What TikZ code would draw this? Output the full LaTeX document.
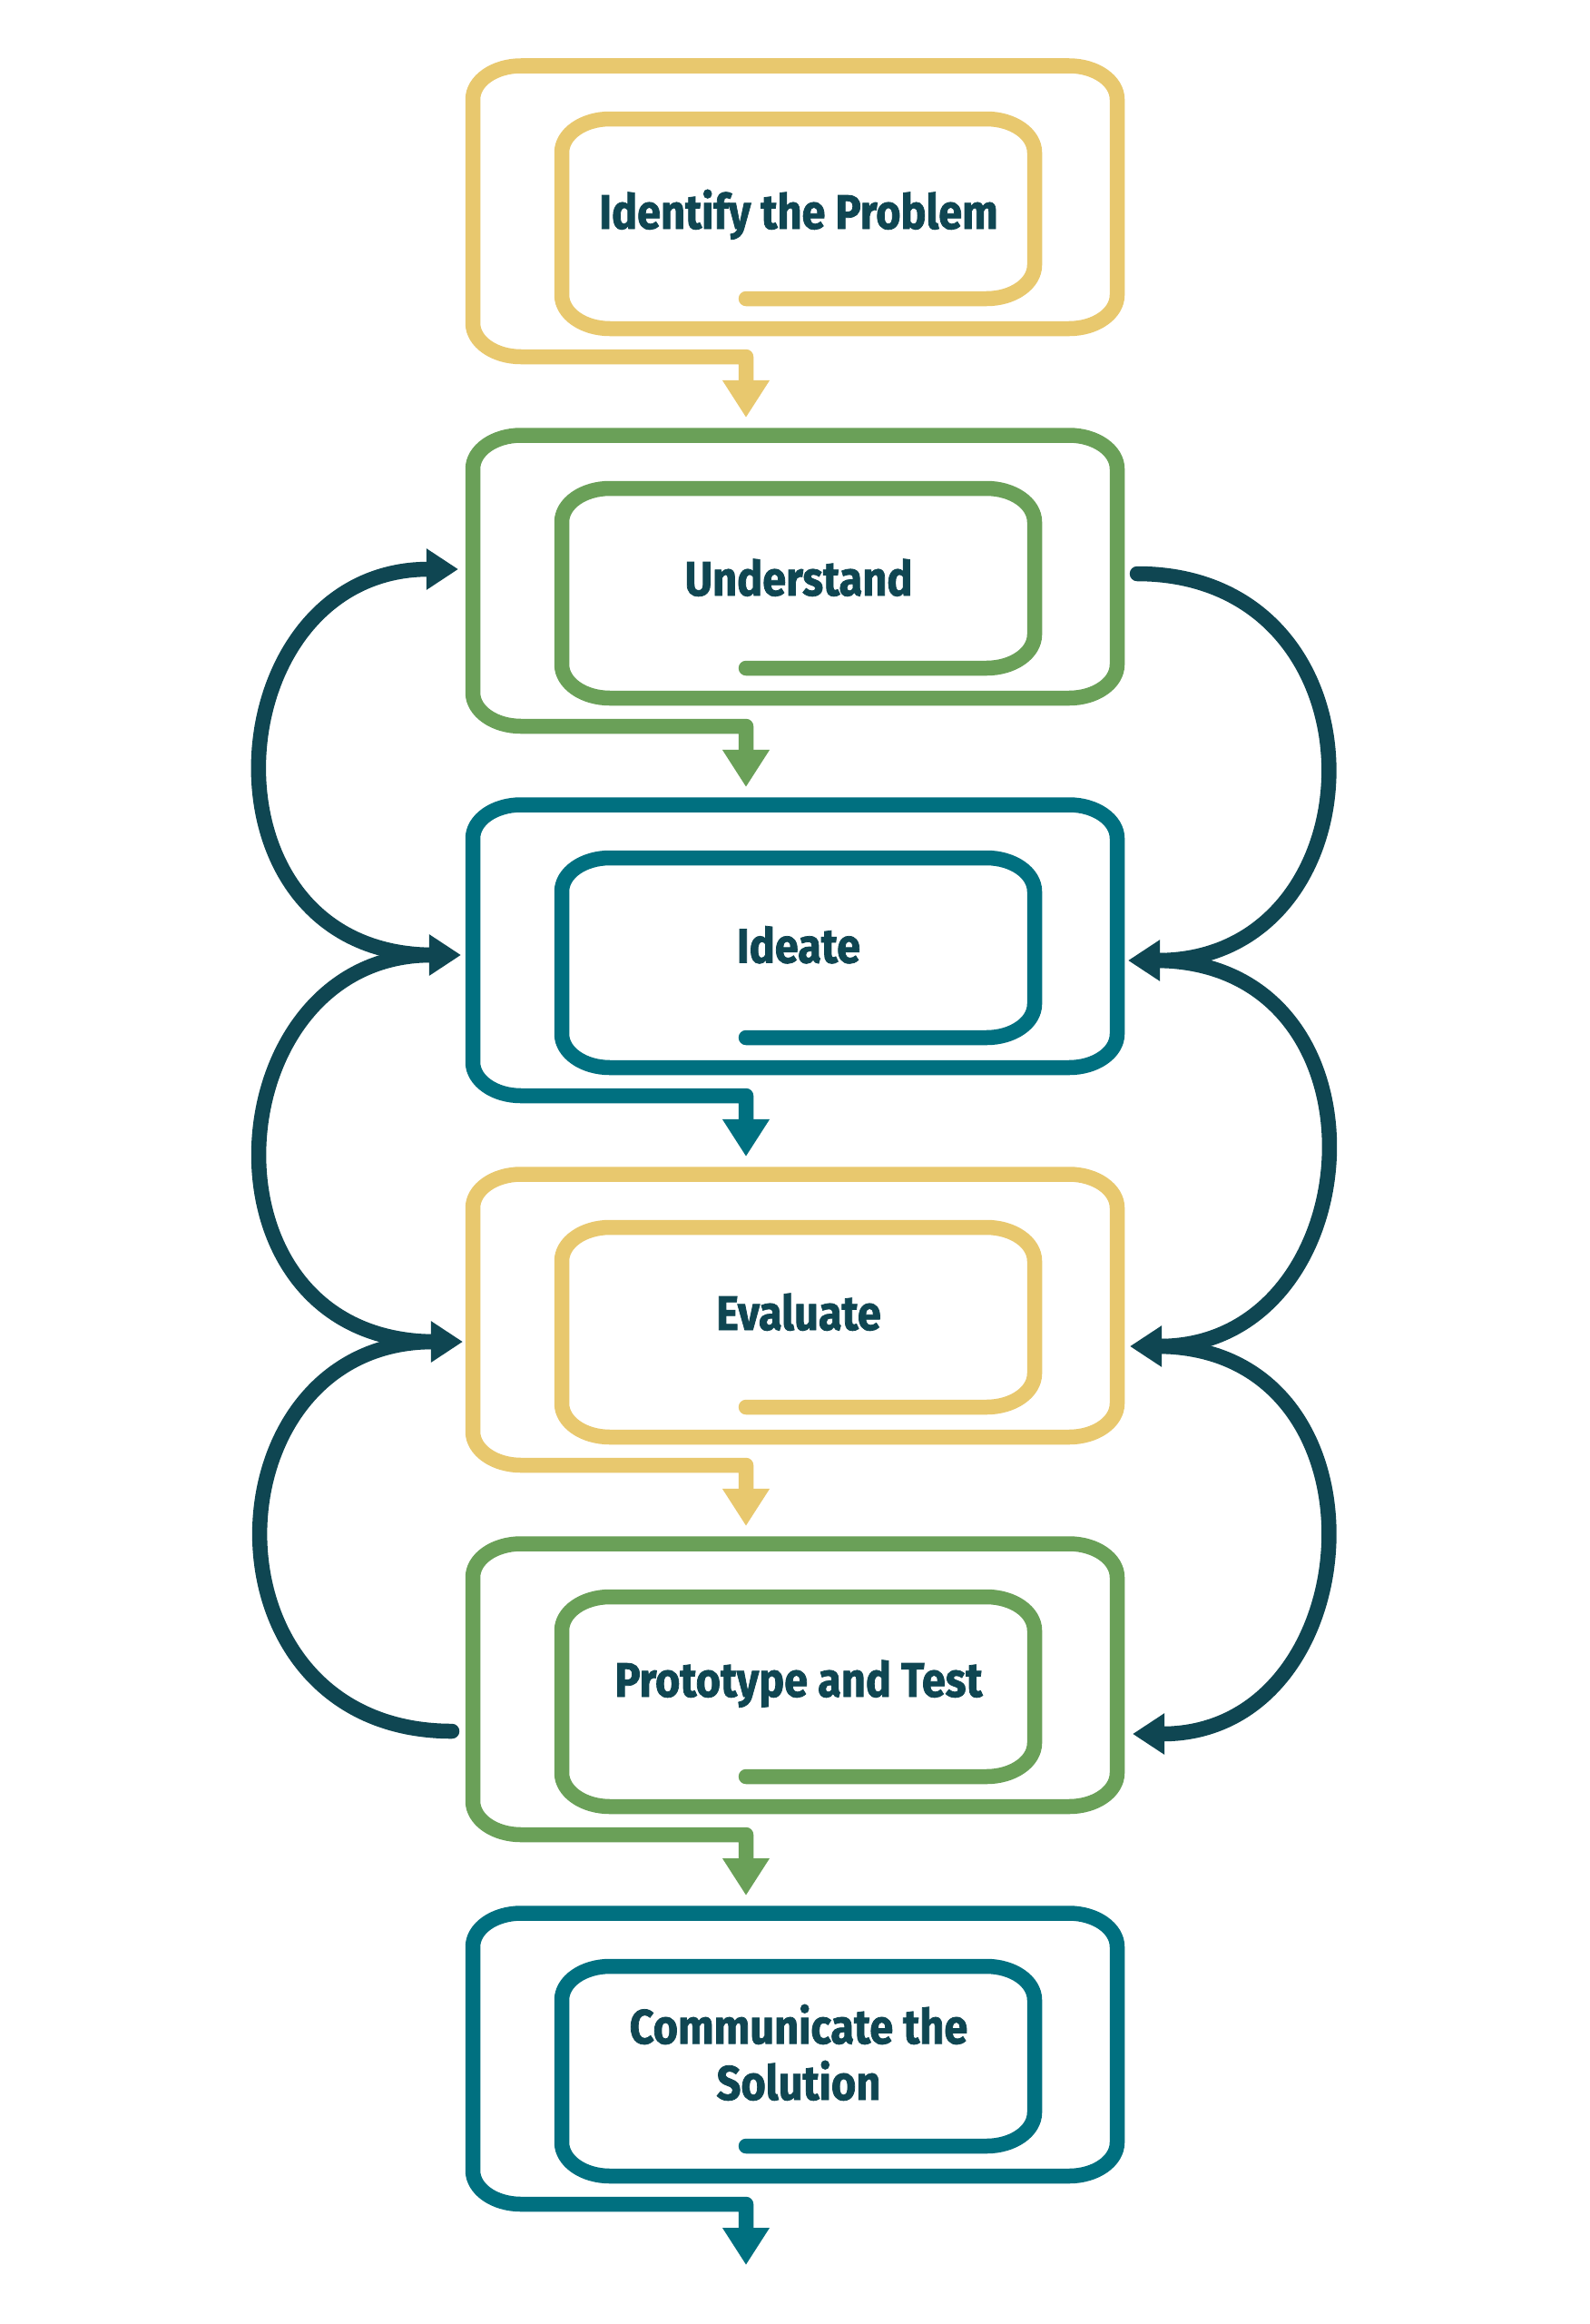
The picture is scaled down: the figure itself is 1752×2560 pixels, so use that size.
\documentclass[tikz,border=0pt]{standalone}
\usepackage{fontspec}
\setmainfont{Fira Sans}[FakeStretch=0.88, BoldFeatures={FakeBold=1.4}]
\usetikzlibrary{arrows.meta}
\definecolor{cyel}{RGB}{232,200,110}
\definecolor{cgrn}{RGB}{106,160,88}
\definecolor{cteal}{RGB}{0,112,128}
\definecolor{cdark}{RGB}{15,70,82}
\tikzset{
  spiralline/.style={line width=0.165cm, line cap=round, line join=round,
    -{Triangle[length=0.41cm,width=0.49cm]}},
  loopline/.style={line width=0.165cm, line cap=round, draw=cdark,
    -{Triangle[length=0.35cm,width=0.43cm]}},
  label/.style={font=\fontsize{15.15pt}{17.6pt}\selectfont\bfseries, text=cdark,
    inner sep=0pt, anchor=base, align=center},
  crn/.style={x radius=53, y radius=37}
}
\newcommand{\spiralbox}[2]{%
  \begin{scope}[shift={(0,#2)}]
  \draw[spiralline, draw=#1, #1]
    (822,329) -- (1087,329) arc[start angle=90, end angle=0, crn]
    -- (1140,168) arc[start angle=0, end angle=-90, crn]
    -- (672,131) arc[start angle=-90, end angle=-180, crn]
    -- (619,325) arc[start angle=180, end angle=90, crn]
    -- (1178,362) arc[start angle=90, end angle=0, crn]
    -- (1231,109.5) arc[start angle=0, end angle=-90, crn]
    -- (574,72.5) arc[start angle=-90, end angle=-180, crn]
    -- (521,356) arc[start angle=180, end angle=90, crn]
    -- (822,393) -- (822,460);
  \end{scope}}
\begin{document}
\begin{tikzpicture}[x=0.01cm, y=-0.01cm]
\fill[white] (0,0) rectangle (1752,2560);
\useasboundingbox (0,0) rectangle (1752,2560);

% spiral boxes
\spiralbox{cyel}{0}
\spiralbox{cgrn}{407}
\spiralbox{cteal}{814}
\spiralbox{cyel}{1221}
\spiralbox{cgrn}{1628}
\spiralbox{cteal}{2035}

% labels
\node[label] (t1) at (880,252) {Identify the Problem};
\node[label] (t2) at (880,656) {Understand};
\node[label] (t3) at (880,1060.5) {Ideate};
\node[label] (t4) at (880,1465) {Evaluate};
\node[label] (t5) at (880,1869) {Prototype and Test};
\node[label] (t6) at (880,2313) {Communicate the\\Solution};

% loop coordinates (left)
\coordinate (la) at (505,627);
\coordinate (lb) at (508,1052);
\coordinate (lbs) at (478,1052);
\coordinate (lc) at (510,1478);
\coordinate (lcs) at (480,1478);
\coordinate (ld) at (498,1907);
% loop coordinates (right)
\coordinate (ra) at (1253,632);
\coordinate (rb) at (1243,1058);
\coordinate (rbs) at (1273,1058);
\coordinate (rc) at (1245,1483);
\coordinate (rcs) at (1275,1483);
\coordinate (rd) at (1248,1910);

% left loops (upward)
\draw[loopline] (lbs) .. controls +(-270,0) and +(-270,0) .. (la);
\draw[loopline] (lcs) .. controls +(-273,0) and +(-273,0) .. (lb);
\draw[loopline] (ld) .. controls +(-285,0) and +(-285,0) .. (lc);
% right loops (downward)
\draw[loopline] (ra) .. controls +(283,0) and +(283,0) .. (rb);
\draw[loopline] (rbs) .. controls +(269,0) and +(269,0) .. (rc);
\draw[loopline] (rcs) .. controls +(265,0) and +(265,0) .. (rd);
\end{tikzpicture}
\end{document}
